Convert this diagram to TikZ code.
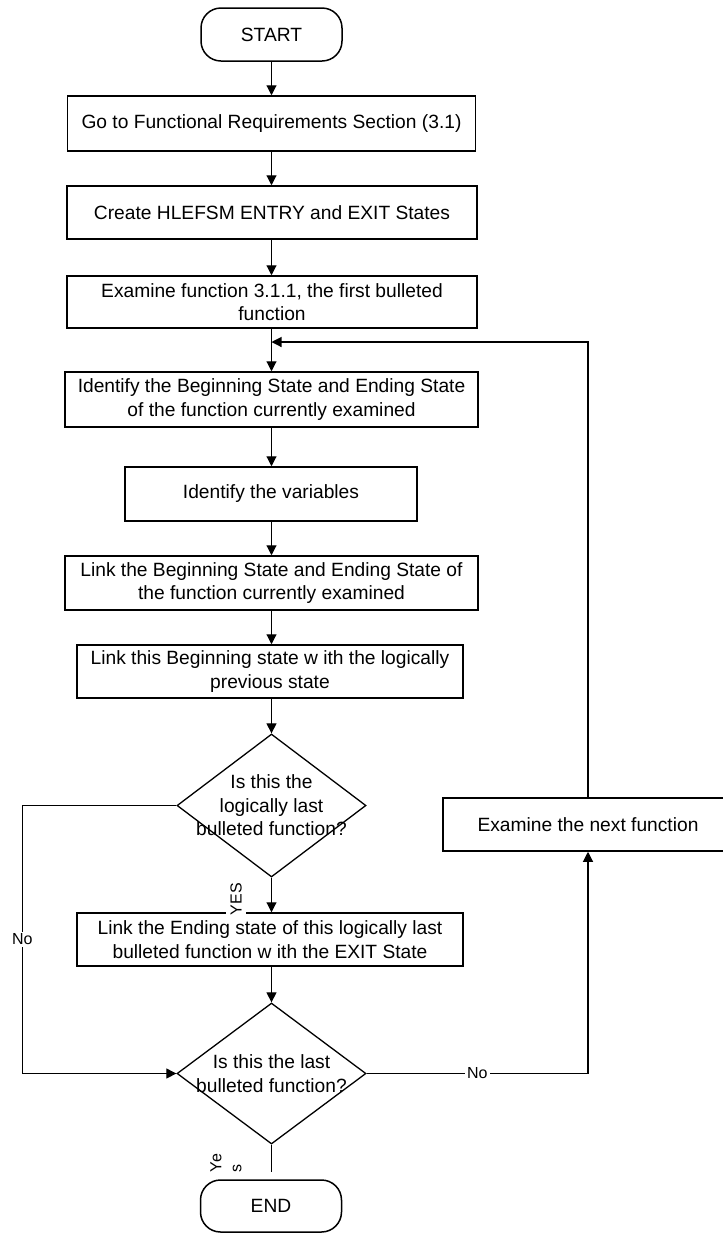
\documentclass[tikz,border=0pt]{standalone}
\usepackage{fontspec}
\setmainfont{Liberation Sans}
\usetikzlibrary{arrows.meta, shapes.geometric}

\begin{document}
\begin{tikzpicture}[x=0.5pt, y=-0.5pt,
    font=\fontsize{9.6}{11.75}\selectfont,
    process/.style={draw, line width=0.75pt, align=center, inner sep=2pt},
    terminal/.style={draw, line width=0.75pt, rounded corners=10pt, minimum width=70.5pt, minimum height=26.5pt},
    decision/.style={draw, diamond, line width=0.65pt, inner sep=0pt, minimum width=94.5pt, minimum height=71.5pt},
    flow/.style={line width=0.55pt, -{Triangle[length=5pt, width=5pt]}},
    lbl/.style={fill=white, inner sep=1pt, font=\fontsize{8}{10}\selectfont}]

  % page
  \path[use as bounding box, clip] (0,0) rectangle (723,1233);

  % main column
  \node[terminal] (start) at (271.5,34.5) {START};
  \node[process, minimum width=204pt, minimum height=27.5pt] (box1) at (271.5,123.5) {Go to Functional Requirements Section (3.1)};
  \node[process, minimum width=205pt, minimum height=26.5pt] (box2) at (272,212.5) {Create HLEFSM ENTRY and EXIT States};
  \node[process, minimum width=205pt, minimum height=26pt] (box3) at (272,302) {Examine function 3.1.1, the first bulleted\\function};
  \node[process, minimum width=206.5pt, minimum height=27.5pt] (box4) at (271.5,399.5) {Identify the Beginning State and Ending State\\of the function currently examined};
  \node[process, minimum width=146pt, minimum height=27pt] (box5) at (271,494) {Identify the variables};
  \node[process, minimum width=206.5pt, minimum height=27pt] (box6) at (271.5,583) {Link the Beginning State and Ending State of\\the function currently examined};
  \node[process, minimum width=193pt, minimum height=26.5pt] (box7) at (270,671.5) {Link this Beginning state w ith the logically\\previous state};
  \node[decision] (d1) at (271.5,805.5) {};
  \node[align=center] (d1t) at (d1.center) {Is this the\\logically last\\bulleted function?};
  \node[process, minimum width=193pt, minimum height=26.5pt] (box8) at (270,939.5) {Link the Ending state of this logically last\\bulleted function w ith the EXIT State};
  \node[decision, minimum height=70.5pt] (d2) at (271.5,1073.5) {};
  \node[align=center] (d2t) at (d2.center) {Is this the last\\bulleted function?};
  \node[terminal, minimum height=26pt] (end) at (271,1206) {END};

  % loop box
  \node[process, minimum width=145pt, minimum height=26.5pt] (next) at (588,824.5) {Examine the next function};

  % connectors
  \coordinate (merge) at (271.5,342);
  \coordinate (yescut) at (271.5,1172);
  \draw[flow] (start.south -| merge) -- (box1.north -| merge);
  \draw[flow] (box1.south -| merge) -- (box2.north -| merge);
  \draw[flow] (box2.south -| merge) -- (box3.north -| merge);
  \draw[flow] (box3.south -| merge) -- (box4.north -| merge);
  \draw[flow] (box4.south -| merge) -- (box5.north -| merge);
  \draw[flow] (box5.south -| merge) -- (box6.north -| merge);
  \draw[flow] (box6.south -| merge) -- (box7.north -| merge);
  \draw[flow] (box7.south -| merge) -- (d1.north);
  \draw[flow] (d1.south) -- (box8.north -| d1);
  \draw[flow] (box8.south -| d1) -- (d2.north);
  \draw[line width=0.55pt] (d2.south) -- (yescut);
  \draw[flow] (d1.west) -- ++(-154,0) |- node[pos=0.25, lbl] (nol) {No} (d2.west);
  \draw[flow] (d2.east) -| node[pos=0.25, lbl] (nor) {No} (next.south);
  \draw[flow] (next.north) |- (merge);

  % answer labels
  \node[lbl, rotate=90, inner sep=2pt] (yes) at (236,899) {YES};
  \node[lbl, rotate=90, align=left, fill=none] (yess) at (226,1163) {Ye\\s};
\end{tikzpicture}
\end{document}
